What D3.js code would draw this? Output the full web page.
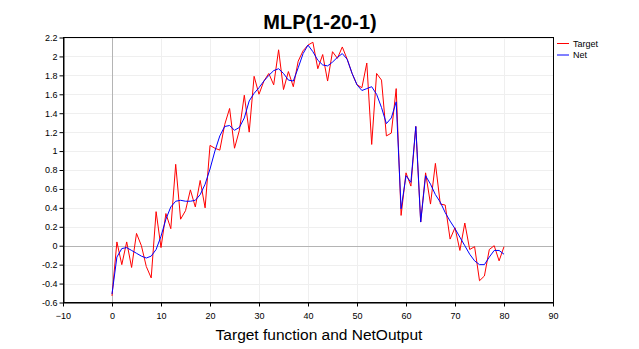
<!DOCTYPE html>
<html>
<head>
<meta charset="utf-8">
<script src="https://cdn.jsdelivr.net/npm/d3@7"></script>
<style>
html,body{margin:0;padding:0;background:#fff;}
svg{display:block;font-family:"Liberation Sans",Arial,sans-serif;}
</style>
</head>
<body>
<svg id="chart" width="639" height="349"></svg>
<script>
const title = "MLP(1-20-1)";
const xTitle = "Target function and NetOutput";
const seriesNames = ["Target", "Net"];
const xValues = d3.range(0, 81);
const target = [-0.53,0.04,-0.2,0.04,-0.23,0.13,0.0,-0.22,-0.34,0.36,
  -0.02,0.34,0.18,0.86,0.28,0.37,0.59,0.41,0.69,0.40,
  1.06,1.03,1.01,1.28,1.45,1.03,1.22,1.59,1.2,1.79,
  1.6,1.74,1.82,1.7,2.07,1.65,1.84,1.68,1.95,2.06,
  2.12,2.15,1.87,2.02,1.74,2.05,1.98,2.1,1.97,1.82,
  1.70,1.67,1.93,1.07,1.82,1.75,1.16,1.19,1.66,0.32,
  0.77,0.63,1.26,0.25,0.77,0.44,0.87,0.44,0.43,0.07,
  0.19,-0.05,0.24,-0.04,-0.01,-0.37,-0.32,-0.04,0.0,-0.16,-0.01];
const net = [-0.51,-0.12,-0.03,-0.02,-0.05,-0.08,-0.11,-0.13,-0.11,-0.04,
  0.1,0.28,0.41,0.47,0.48,0.47,0.47,0.48,0.54,0.65,
  0.81,1.0,1.16,1.26,1.27,1.22,1.25,1.35,1.53,1.61,
  1.67,1.74,1.8,1.85,1.87,1.82,1.75,1.74,1.88,2.03,
  2.12,2.05,1.96,1.91,1.9,1.94,1.99,2.03,1.97,1.82,
  1.70,1.64,1.66,1.68,1.6,1.46,1.29,1.35,1.52,0.39,
  0.74,0.67,1.26,0.25,0.74,0.65,0.54,0.46,0.35,0.26,
  0.18,0.09,0.0,-0.09,-0.16,-0.2,-0.2,-0.12,-0.05,-0.05,-0.09];
const xTicks = d3.range(-10, 91, 10);
const yTicks = d3.range(-0.6, 2.21, 0.2).map(v => Math.round(v * 10) / 10);
const colors = ["#ff0000", "#0000ff"];

const svg = d3.select("#chart");
const L = 63, R = 553, T = 37.5, B = 302.5;
const x = d3.scaleLinear().domain([-10, 90]).range([L, R]);
const y = d3.scaleLinear().domain([-0.6, 2.2]).range([B, T]);

// grid (light first, zero lines on top)
const g = svg.append("g");
const xg = xTicks.filter(d => d !== 0), yg = yTicks.filter(d => d !== 0);
g.selectAll(".vg").data(xg).join("line")
  .attr("x1", d => Math.round(x(d)) + 0.5).attr("x2", d => Math.round(x(d)) + 0.5)
  .attr("y1", T).attr("y2", B).attr("stroke", "#efefef");
g.selectAll(".hg").data(yg).join("line")
  .attr("y1", d => Math.round(y(d)) + 0.5).attr("y2", d => Math.round(y(d)) + 0.5)
  .attr("x1", L).attr("x2", R).attr("stroke", "#efefef");
g.append("line").attr("x1", Math.round(x(0)) + 0.5).attr("x2", Math.round(x(0)) + 0.5)
  .attr("y1", T).attr("y2", B).attr("stroke", "#b4b4b4");
g.append("line").attr("y1", Math.round(y(0)) + 0.5).attr("y2", Math.round(y(0)) + 0.5)
  .attr("x1", L).attr("x2", R).attr("stroke", "#b4b4b4");

// series
const line = d3.line().x((d, i) => x(xValues[i])).y(d => y(d));
[target, net].forEach((s, k) => {
  svg.append("path").datum(s).attr("d", line)
    .attr("fill", "none").attr("stroke", colors[k]).attr("stroke-width", 1);
});

// frame
svg.append("rect").attr("x", L + 0.5).attr("y", T).attr("width", R - L).attr("height", B - T)
  .attr("fill", "none").attr("stroke", "#000").attr("stroke-width", 1);

// axes
const xAxis = d3.axisBottom(x).tickValues(xTicks).tickSize(4).tickSizeOuter(0).tickFormat(d3.format("d"));
const yAxis = d3.axisLeft(y).tickValues(yTicks).tickSize(4).tickSizeOuter(0).tickFormat(d => String(d));
const gx = svg.append("g").attr("transform", `translate(0,${B})`).call(xAxis);
const gy = svg.append("g").attr("transform", `translate(${L + 0.5},0)`).call(yAxis);
[gx, gy].forEach(a => {
  a.select(".domain").attr("stroke", "#000");
  a.selectAll(".tick line").attr("stroke", "#000");
  a.selectAll("text").attr("font-size", "9px").attr("fill", "#000")
    .attr("font-family", "'Liberation Sans', Arial, sans-serif");
});
gx.selectAll("text").attr("dy", "0").attr("y", 16);
gy.selectAll("text").attr("x", -6);

// title
svg.append("text").attr("x", 320).attr("y", 28.5).attr("text-anchor", "middle")
  .attr("font-size", "20px").attr("font-weight", "bold").text(title);
svg.append("text").attr("x", 319).attr("y", 340).attr("text-anchor", "middle")
  .attr("font-size", "15.5px").text(xTitle);

// legend
const lg = svg.append("g");
seriesNames.forEach((n, i) => {
  const yy = 43.5 + i * 11.5;
  lg.append("line").attr("x1", 557).attr("x2", 569).attr("y1", yy).attr("y2", yy)
    .attr("stroke", colors[i]).attr("stroke-width", 1);
  lg.append("text").attr("x", 573).attr("y", yy + 3).attr("font-size", "9px").text(n);
});
</script>
</body>
</html>
